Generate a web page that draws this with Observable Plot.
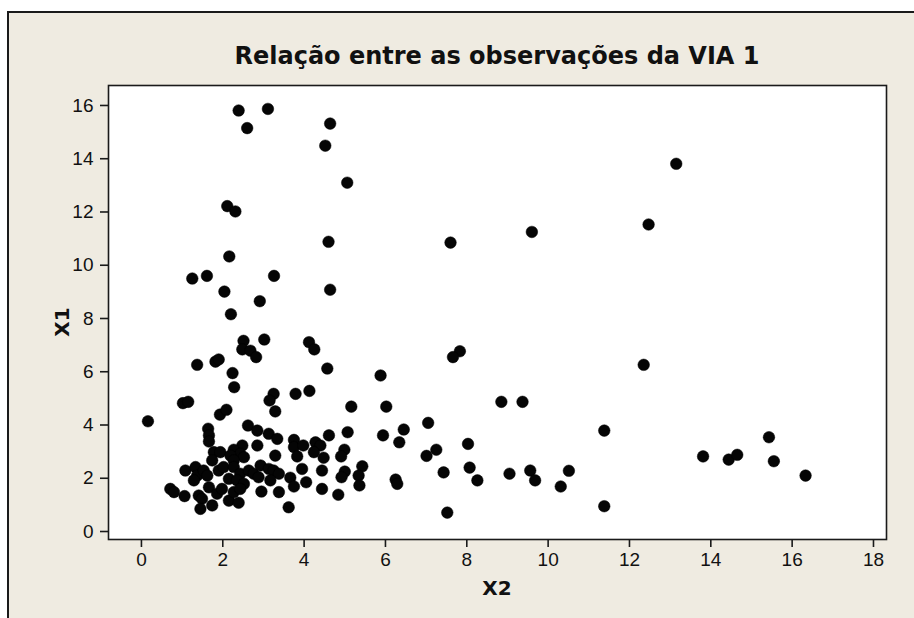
<!DOCTYPE html>
<html><head><meta charset="utf-8">
<script src="https://cdn.jsdelivr.net/npm/d3@7"></script>
<script src="https://cdn.jsdelivr.net/npm/@observablehq/plot@0.6"></script>
<style>
html,body{margin:0;padding:0;background:#fff;width:914px;height:618px;overflow:hidden;}
#bg{position:absolute;left:7px;top:11px;width:1000px;height:700px;background:#efebe1;border:2px solid #1a1a1a;}
#chart{position:absolute;left:0;top:0;}
.t{position:absolute;font-family:"DejaVu Sans",Verdana,sans-serif;font-weight:bold;color:#111;white-space:nowrap;}
#title{left:0;width:994px;text-align:center;top:43px;font-size:24px;line-height:26px;}
#xl{left:397px;width:200px;text-align:center;top:577px;font-size:20px;line-height:22px;}
#yl{left:62px;top:322px;font-size:20px;line-height:22px;transform:translate(-50%,-50%) rotate(-90deg);}
</style></head><body>
<div id="bg"></div>
<div id="title" class="t">Relação entre as observações da VIA 1</div>
<div id="chart"></div>
<div id="xl" class="t">X2</div>
<div id="yl" class="t">X1</div>
<script>
// X2 (horizontal) values
const x2 = [
 2.39,3.11,2.60,4.64,4.52,5.06,2.11,2.31,4.60,2.16,1.25,1.61,3.26,2.04,4.64,2.91,2.20,2.51,3.02,2.48,
 2.68,2.82,4.12,4.25,1.37,1.82,1.90,4.57,5.88,
 7.60,9.60,13.15,12.47,7.83,7.66,12.35,8.85,9.37,
 2.24,2.28,3.25,3.15,3.29,0.16,1.02,1.15,1.93,2.09,1.64,1.66,1.66,2.62,2.85,3.13,3.34,2.85,2.48,2.27,
 2.43,1.78,1.94,1.74,3.29,2.19,2.52,2.27,1.08,1.33,1.37,1.53,1.62,1.29,1.90,2.02,2.27,2.43,2.64,2.76,
 2.15,2.35,2.52,2.93,3.13,3.25,3.38,2.88,3.17,0.71,0.80,1.06,1.66,1.86,1.98,1.41,1.49,1.45,1.74,2.15,
 2.39,2.27,2.43,2.95,3.38,
 3.79,4.13,5.16,6.02,3.75,3.75,3.98,4.28,4.40,4.24,4.61,5.07,5.94,6.45,6.34,3.83,4.48,4.99,4.91,3.66,
 3.75,3.95,4.05,4.44,5.00,4.92,5.43,5.34,5.36,6.25,6.29,4.44,4.84,3.62,
 7.05,7.25,7.01,8.03,11.38,7.43,8.07,8.26,9.05,9.56,9.68,10.51,10.31,7.52,11.38,
 15.43,13.81,14.44,14.65,15.55,16.33
];
// X1 (vertical) values
const x1 = [
 15.81,15.87,15.15,15.32,14.49,13.10,12.22,12.02,10.88,10.33,9.50,9.60,9.60,9.01,9.08,8.65,8.16,7.16,7.21,6.84,
 6.79,6.55,7.11,6.84,6.26,6.38,6.46,6.12,5.86,
 10.85,11.25,13.81,11.53,6.77,6.55,6.26,4.87,4.87,
 5.95,5.42,5.17,4.92,4.51,4.14,4.82,4.87,4.39,4.57,3.86,3.61,3.38,3.98,3.79,3.67,3.48,3.23,3.23,3.07,
 2.92,2.98,2.98,2.67,2.85,2.85,2.79,2.67,2.29,2.42,2.10,2.29,2.10,1.92,2.29,2.42,2.42,2.17,2.29,2.17,
 1.98,1.92,1.79,2.48,2.35,2.29,2.17,2.04,1.92,1.60,1.48,1.33,1.66,1.42,1.60,1.35,1.23,0.85,0.98,1.16,
 1.08,1.48,1.60,1.50,1.48,
 5.17,5.28,4.69,4.69,3.44,3.17,3.23,3.35,3.23,2.98,3.61,3.73,3.61,3.83,3.35,2.82,2.77,3.07,2.82,2.02,
 1.69,2.35,1.85,2.29,2.25,2.04,2.45,2.10,1.73,1.95,1.79,1.60,1.38,0.91,
 4.08,3.07,2.84,3.29,3.79,2.22,2.40,1.92,2.17,2.29,1.92,2.28,1.69,0.71,0.95,
 3.54,2.82,2.70,2.88,2.64,2.10
];
const xTicks = [0,2,4,6,8,10,12,14,16,18];
const yTicks = [0,2,4,6,8,10,12,14,16];
const data = x2.map((v,i)=>({x2:v,x1:x1[i]}));
const plot = Plot.plot({
  width:914, height:618,
  marginLeft:108, marginRight:28, marginTop:85, marginBottom:79,
  style:{background:"transparent", fontFamily:"'Liberation Sans', Arial, sans-serif", fontSize:"19px", color:"#111", overflow:"visible"},
  x:{domain:[-0.81,18.32]},
  y:{domain:[-0.30,16.75]},
  marks:[
    Plot.frame({fill:"white"}),
    Plot.dot(data,{x:"x2",y:"x1",r:5.8,fill:"#050505",stroke:"#000",strokeWidth:0.5}),
    Plot.frame({stroke:"#1a1a1a", strokeWidth:1.6}),
    Plot.axisX({ticks:xTicks, tickSize:8, tickPadding:5, label:null, stroke:"#1a1a1a", strokeWidth:1.6}),
    Plot.axisY({ticks:yTicks, tickSize:8, tickPadding:7, label:null, stroke:"#1a1a1a", strokeWidth:1.6})
  ]
});
document.getElementById("chart").appendChild(plot);
</script>
</body></html>
